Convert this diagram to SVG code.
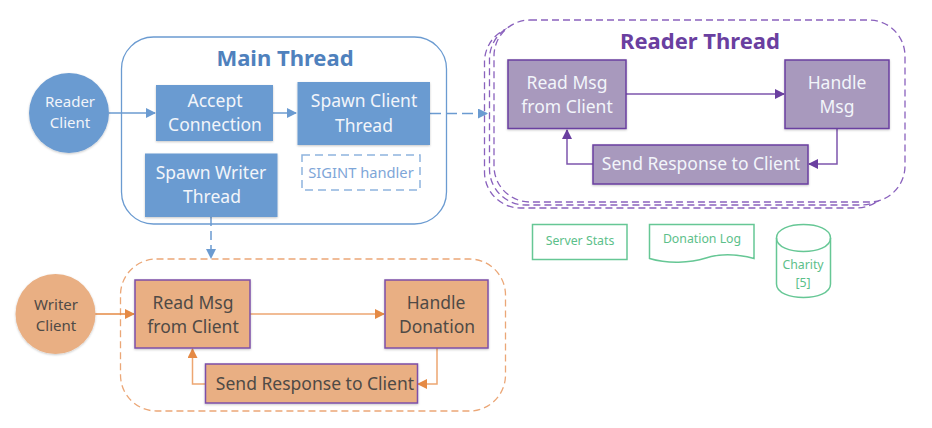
<svg xmlns="http://www.w3.org/2000/svg" width="932" height="428" viewBox="0 0 932 428">
<style>
text{font-family:"Noto Sans","Open Sans","Liberation Sans",sans-serif;text-anchor:middle}
.n{font-size:17.500px;fill:#f2f5fa}
.o{font-size:17.500px;fill:#4f4a46}
.c{font-size:15px}
.g{font-size:12.300px;fill:#5cc08a}
.blue{fill:#6b9bd1;filter:url(#s)}
.pur{fill:#a899bd;stroke:#6a3fa0;stroke-width:1.5;filter:url(#s)}
.org{fill:#e9af83;stroke:#7d4fa8;stroke-width:1.5;filter:url(#s)}
.gr{fill:#fff;stroke:#66c795;stroke-width:1.5}
.line{fill:none;stroke-width:1.5}
</style>
<defs>
<filter id="s" x="-10%" y="-10%" width="120%" height="125%"><feDropShadow dx="0" dy="1" stdDeviation="1.2" flood-color="#000" flood-opacity=".22"/></filter>
<marker id="ab" markerWidth="10" markerHeight="10" refX="9" refY="5" orient="auto" markerUnits="userSpaceOnUse"><path d="M0 0L10 5L0 10Z" fill="#6b9bd1"/></marker>
<marker id="ap" markerWidth="10" markerHeight="10" refX="9" refY="5" orient="auto" markerUnits="userSpaceOnUse"><path d="M0 0L10 5L0 10Z" fill="#6a3fa0"/></marker>
<marker id="ao" markerWidth="10" markerHeight="10" refX="9" refY="5" orient="auto" markerUnits="userSpaceOnUse"><path d="M0 0L10 5L0 10Z" fill="#e58a45"/></marker>
</defs>
<rect width="932" height="428" fill="#fff"/>
<g id="main-thread"><rect x="121.500" y="37" width="325" height="187" rx="32" fill="#fff" stroke="#6b9bd1" stroke-width="1.3"/><text x="285" y="66" font-size="22" font-weight="700" fill="#4f81bd">Main Thread</text></g>
<g id="reader-thread">
<rect x="484.500" y="26" width="408" height="182" rx="36" fill="none" stroke="#8a62bd" stroke-width="1.3" stroke-dasharray="7 4"/>
<rect x="489.500" y="23" width="408" height="182" rx="36" fill="none" stroke="#8a62bd" stroke-width="1.3" stroke-dasharray="7 4"/>
<rect x="494" y="20" width="411" height="182" rx="36" fill="#fff" stroke="#8a62bd" stroke-width="1.3" stroke-dasharray="7 4"/>
<text x="700" y="49" font-size="22" font-weight="700" fill="#6a3fa0">Reader Thread</text></g>
<g id="writer-thread"><rect x="120.500" y="259" width="385" height="152" rx="36" fill="#fff" stroke="#eba777" stroke-width="1.3" stroke-dasharray="7 4"/></g>
<g id="connectors">
<path class="line" d="M109 113H155" stroke="#6b9bd1" marker-end="url(#ab)"/>
<path class="line" d="M273 113H296" stroke="#6b9bd1" marker-end="url(#ab)"/>
<path class="line" d="M430 113.500H487" stroke="#6b9bd1" stroke-dasharray="11 5" marker-end="url(#ab)"/>
<path class="line" d="M211 217V258" stroke="#6b9bd1" stroke-dasharray="9 5" marker-end="url(#ab)"/>
<path class="line" d="M626 94H784" stroke="#7d55ad" marker-end="url(#ap)"/>
<path class="line" d="M837 128.500V164H809" stroke="#7d55ad" marker-end="url(#ap)"/>
<path class="line" d="M593 164H567V130" stroke="#7d55ad" marker-end="url(#ap)"/>
<path class="line" d="M95 314H134" stroke="#e58a45" marker-end="url(#ao)"/>
<path class="line" d="M250 314H384" stroke="#eda672" marker-end="url(#ao)"/>
<path class="line" d="M437 348V384H418" stroke="#eda672" marker-end="url(#ao)"/>
<path class="line" d="M205 384H192.500V349" stroke="#eda672" marker-end="url(#ao)"/>
</g>
<g id="reader-client"><circle class="blue" cx="69" cy="113" r="40"/><text class="n c" x="70" y="107">Reader</text><text class="n c" x="70" y="128">Client</text></g>
<g id="accept"><rect class="blue" x="156" y="85" width="117" height="56"/><text class="n" x="215" y="107">Accept</text><text class="n" x="215" y="131">Connection</text></g>
<g id="spawn-client"><rect class="blue" x="297.500" y="82" width="132.500" height="63"/><text class="n" x="364" y="107">Spawn Client</text><text class="n" x="364" y="132">Thread</text></g>
<g id="spawn-writer"><rect class="blue" x="145" y="153.500" width="132.500" height="63.500"/><text class="n" x="211" y="179">Spawn Writer</text><text class="n" x="212" y="203">Thread</text></g>
<g id="sigint"><rect x="302" y="155" width="118" height="35" fill="none" stroke="#8fb4de" stroke-width="1.5" stroke-dasharray="8 5"/><text x="361" y="178" font-size="14.700" fill="#7ea6d8">SIGINT handler</text></g>
<g id="reader-read"><rect class="pur" x="508" y="60" width="118" height="68.500"/><text class="n" x="567" y="89">Read Msg</text><text class="n" x="567" y="113">from Client</text></g>
<g id="reader-handle"><rect class="pur" x="785" y="60" width="104" height="68.500"/><text class="n" x="837" y="89">Handle</text><text class="n" x="837" y="113">Msg</text></g>
<g id="reader-send"><rect class="pur" x="593" y="145" width="215" height="39"/><text class="n" x="701" y="170">Send Response to Client</text></g>
<g id="writer-client"><circle cx="55.500" cy="314" r="40" fill="#e9af83" filter="url(#s)"/><text class="o c" x="56" y="310">Writer</text><text class="o c" x="56" y="331">Client</text></g>
<g id="writer-read"><rect class="org" x="135" y="280" width="115" height="68"/><text class="o" x="193" y="309">Read Msg</text><text class="o" x="193" y="333">from Client</text></g>
<g id="writer-handle"><rect class="org" x="385" y="280" width="103" height="68"/><text class="o" x="436" y="309">Handle</text><text class="o" x="437" y="333">Donation</text></g>
<g id="writer-send"><rect class="org" x="205.500" y="364" width="212" height="39"/><text class="o" x="315" y="390">Send Response to Client</text></g>
<g id="server-stats"><rect class="gr" x="532.500" y="224.500" width="94.500" height="35"/><text class="g" x="580" y="245">Server Stats</text></g>
<g id="donation-log"><path class="gr" d="M649.500 224.500H754V258.500C737 254 722 253 706 258C690 263 668 264 649.500 258.500Z"/><text class="g" x="702" y="243">Donation Log</text></g>
<g id="charity"><path class="gr" d="M776.500 238C776.500 220 830.500 220 830.500 238V284C830.500 302 776.500 302 776.500 284Z"/><path class="gr" d="M776.500 238C776.500 256 830.500 256 830.500 238" style="fill:none"/><text class="g" x="803" y="269">Charity</text><text class="g" x="803" y="287">[5]</text></g>
</svg>
